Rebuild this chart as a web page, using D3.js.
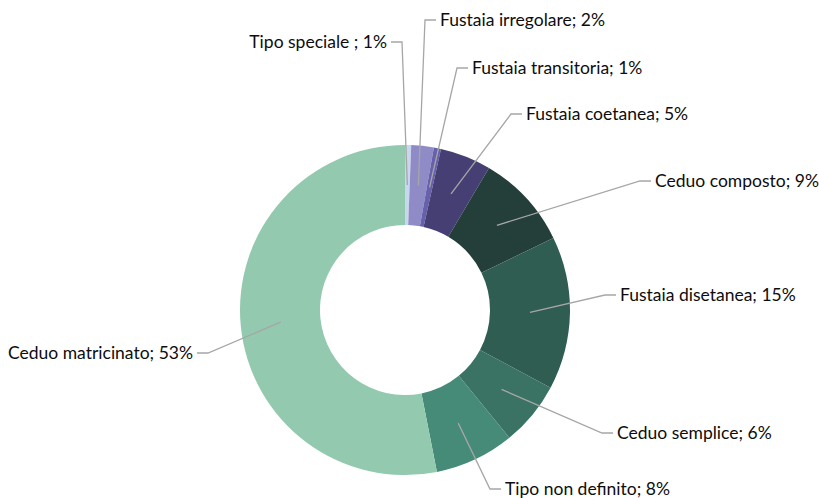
<!DOCTYPE html>
<html><head><meta charset="utf-8">
<script src="https://cdn.jsdelivr.net/npm/d3@7"></script>
<style>body{margin:0;background:#fff}svg{display:block}</style>
</head><body>
<svg id="c" width="819" height="498"></svg>
<script>
const categories = ["Tipo speciale ", "Fustaia irregolare", "Fustaia transitoria", "Fustaia coetanea", "Ceduo composto", "Fustaia disetanea", "Ceduo semplice", "Tipo non definito", "Ceduo matricinato"];
const values = [0.6, 2.2, 0.7, 5.0, 9.3, 15.0, 6.3, 7.8, 53.1];
const colors = ["#c8d6ee", "#8f8bc6", "#6761ab", "#463f74", "#243f3a", "#2f5d52", "#3a7363", "#468a78", "#93c9ae"];
// label layout (text anchor point, side)
const labelLayout = [
  {x: 387, y: 42, side: "left"},
  {x: 440, y: 20, side: "right"},
  {x: 472, y: 68, side: "right"},
  {x: 526, y: 114, side: "right"},
  {x: 655, y: 181, side: "right"},
  {x: 620, y: 295, side: "right"},
  {x: 617, y: 433, side: "right"},
  {x: 505, y: 489, side: "right"},
  {x: 193, y: 353, side: "left"}
];

const svg = d3.select("#c");
const cx = 405, cy = 310, rOut = 165, rIn = 85;
const data = categories.map((c, i) => ({name: c, value: values[i], color: colors[i], lab: labelLayout[i]}));
const total = d3.sum(values);
const pie = d3.pie().value(d => d.value).sort(null);
const arc = d3.arc().innerRadius(rIn).outerRadius(rOut);
const arcs = pie(data);
const g = svg.append("g").attr("transform", `translate(${cx},${cy})`);
g.selectAll("path").data(arcs).join("path")
  .attr("d", arc).attr("fill", d => d.data.color);

const lines = svg.append("g");
arcs.forEach(a => {
  const [px, py] = arc.centroid(a);
  const L = a.data.lab;
  const sx = cx + px, sy = cy + py;
  let pts;
  if (L.side === "right") {
    pts = [[sx, sy], [L.x - 15, L.y], [L.x - 4, L.y]];
  } else {
    pts = [[sx, sy], [L.x + 15, L.y], [L.x + 4, L.y]];
  }
  lines.append("path").attr("d", d3.line()(pts))
    .attr("fill", "none").attr("stroke", "#a6a6a6").attr("stroke-width", 1.3);
  svg.append("text").attr("x", L.x).attr("y", L.y)
    .attr("dy", "0.35em")
    .attr("text-anchor", L.side === "right" ? "start" : "end")
    .attr("font-family", "Lato, 'Open Sans', sans-serif")
    .attr("font-size", 17.5).attr("fill", "#0d0d0d")
    .text(`${a.data.name}; ${Math.round(a.data.value / total * 100)}%`);
});
</script>
</body></html>
